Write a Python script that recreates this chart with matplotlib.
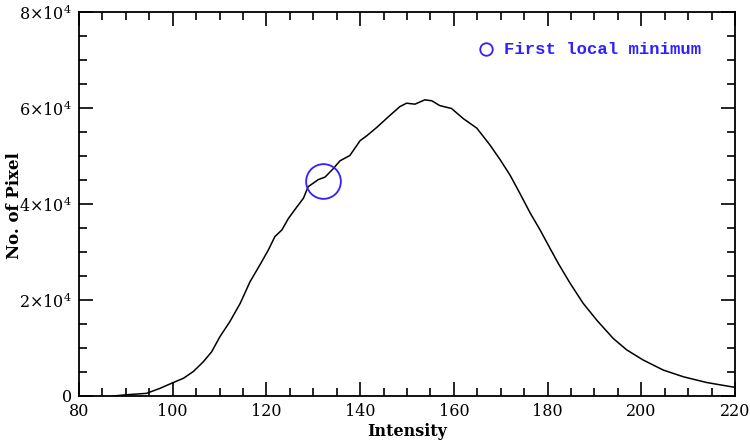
import numpy as np
import matplotlib
matplotlib.use("Agg")
import matplotlib.pyplot as plt
from matplotlib.ticker import MultipleLocator, FixedFormatter, FixedLocator

# histogram
intensity = [87.3, 90, 94.4, 97.3, 100.1, 102.3, 104.4, 106.5, 108.3, 110.1,
             112.2, 114.4, 116.5, 118.6, 120.4, 121.8, 123.3, 124.7, 126.5,
             127.9, 128.9, 131.1, 132.5, 134.3, 135.7, 137.8, 140, 141.4,
             143.6, 146.4, 148.5, 149.9, 151.7, 153.8, 155.3, 157, 159.5,
             162, 164.9, 167.7, 169.9, 172, 174.1, 176.3, 178.4, 180.5, 182.3,
             184.8, 187.6, 190.5, 194, 196.9, 200.4, 204.7, 209, 214, 220]
pixels = [0, 250, 550, 1600, 2800, 3700, 5100, 7100, 9200, 12400,
          15500, 19300, 23800, 27300, 30400, 33200, 34600, 37000, 39400,
          41200, 43600, 45100, 45600, 47400, 49000, 50100, 53200, 54200,
          56000, 58500, 60300, 61000, 60800, 61700, 61500, 60500, 59900,
          57800, 55800, 52300, 49200, 46000, 42200, 38100, 34600, 30800, 27600,
          23500, 19300, 15800, 12000, 9600, 7500, 5400, 4000, 2800, 1800]

min_x = [132.1]
min_y = [44800]
legend_label = "First local minimum"

yticks = [0, 20000, 40000, 60000, 80000]
ytick_labels = ["0", r"$2{\times}10^4$", r"$4{\times}10^4$", r"$6{\times}10^4$", r"$8{\times}10^4$"]

plt.rcParams.update({
    'font.family': 'DejaVu Serif',
    'mathtext.fontset': 'dejavuserif',
    'font.size': 10,
})

BLUE = '#3020ff'

fig = plt.figure(figsize=(7.5, 4.43), dpi=100)
ax = fig.add_axes([79/750, 47/443, 656/750, 384/443])

ax.plot(intensity, pixels, color="black", linewidth=1.1)
ax.plot(min_x, min_y, 'o', markersize=25, markerfacecolor='none',
        markeredgecolor=BLUE, markeredgewidth=1.3)

# legend drawn as marker + text in axes coords
ax.plot([0.621], [0.903], 'o', transform=ax.transAxes, markersize=9,
        markerfacecolor='none', markeredgecolor=BLUE, markeredgewidth=1.3,
        clip_on=False)
ax.text(0.648, 0.903, legend_label, transform=ax.transAxes, color=BLUE,
        fontsize=12.4, family='Liberation Mono', fontweight='bold',
        va='center', ha='left')

ax.set_xlim(80, 220)
ax.set_ylim(0, 80000)
ax.xaxis.set_major_locator(MultipleLocator(20))
ax.xaxis.set_minor_locator(MultipleLocator(5))
ax.yaxis.set_major_locator(FixedLocator(yticks))
ax.yaxis.set_major_formatter(FixedFormatter(ytick_labels))
ax.yaxis.set_minor_locator(MultipleLocator(5000))

ax.tick_params(which='both', direction='in', top=True, right=True, width=1.2)
ax.tick_params(which='major', length=10, labelsize=11.5, pad=5)
ax.tick_params(which='minor', length=6)
for s in ax.spines.values():
    s.set_linewidth(1.3)

ax.set_xlabel("Intensity", fontsize=11.5, fontweight='bold', labelpad=2)
fig.text(15/750, 0.537, "No. of Pixel", rotation=90, ha='center', va='center',
         fontsize=12, fontweight='bold')

fig.savefig("out.png", dpi=100)
